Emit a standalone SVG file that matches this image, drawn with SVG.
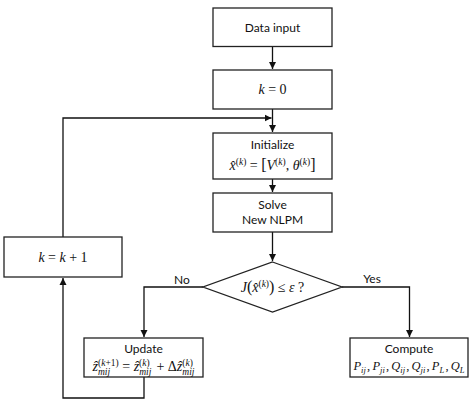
<svg xmlns="http://www.w3.org/2000/svg" width="474" height="402" viewBox="0 0 474 402">
<defs>
<marker id="ah" markerWidth="8" markerHeight="8" refX="7" refY="4" orient="auto" markerUnits="userSpaceOnUse">
<path d="M0,0.5 L7,4 L0,7.5 Z" fill="#111"/>
</marker>
<style>
.box{fill:#fff;stroke:#222;stroke-width:1.3}
.ln{fill:none;stroke:#111;stroke-width:1.3}
.t{font-family:Lato,"Liberation Sans",sans-serif;font-size:12px;fill:#111;text-anchor:middle}
.m{font-family:"Liberation Serif","DejaVu Serif",serif;font-size:14px;fill:#111;text-anchor:middle}
.i{font-style:italic}
.s{font-size:9.5px}
.c{font-size:12.5px}
.cs{font-size:8.5px;font-style:italic}
</style>
</defs>
<rect width="474" height="402" fill="#fff"/>
<g id="connectors">
<path class="ln" d="M272.5,46.5 V69" marker-end="url(#ah)"/>
<path class="ln" d="M272.5,109 V132" marker-end="url(#ah)"/>
<path class="ln" d="M63,237 V118 H271.5" marker-end="url(#ah)"/>
<path class="ln" d="M272.5,179 V192" marker-end="url(#ah)"/>
<path class="ln" d="M272.5,232 V261" marker-end="url(#ah)"/>
<path class="ln" d="M203,287 H144 V337" marker-end="url(#ah)"/>
<path class="ln" d="M342,287 H409.5 V337" marker-end="url(#ah)"/>
<path class="ln" d="M144,377 V398 H63 V278" marker-end="url(#ah)"/>
<text class="t" x="182" y="284">No</text>
<text class="t" x="372" y="283">Yes</text>
</g>
<g id="data-input">
<rect class="box" x="213" y="8" width="119" height="38.5"/>
<text class="t" x="272.5" y="31.5">Data input</text>
</g>
<g id="k-zero">
<rect class="box" x="213" y="70" width="119" height="39"/>
<text class="m" x="272.5" y="94"><tspan class="i">k</tspan> = 0</text>
</g>
<g id="initialize">
<rect class="box" x="213" y="133" width="119" height="46"/>
<text class="t" x="272.5" y="149">Initialize</text>
<text class="m" x="272.5" y="170"><tspan class="i">x̂</tspan><tspan class="s" dy="-5.5">(<tspan class="i">k</tspan>)</tspan><tspan dy="5.5"> = </tspan><tspan font-size="16">[</tspan><tspan class="i">V</tspan><tspan class="s" dy="-5.5">(<tspan class="i">k</tspan>)</tspan><tspan dy="5.5">, </tspan><tspan class="i">θ</tspan><tspan class="s" dy="-5.5">(<tspan class="i">k</tspan>)</tspan><tspan dy="5.5" font-size="16">]</tspan></text>
</g>
<g id="solve">
<rect class="box" x="213" y="193" width="119" height="39"/>
<text class="t" x="272.5" y="209">Solve</text>
<text class="t" x="272.5" y="224">New NLPM</text>
</g>
<g id="decision">
<polygon class="box" points="272.5,262 342,287 272.5,312 203,287"/>
<text class="m" x="272.5" y="292"><tspan class="i">J</tspan><tspan font-size="16">(</tspan><tspan class="i">x̂</tspan><tspan class="s" dy="-5.5">(<tspan class="i">k</tspan>)</tspan><tspan dy="5.5" font-size="16">)</tspan> ≤ <tspan class="i">ε</tspan> ?</text>
</g>
<g id="k-increment">
<rect class="box" x="4" y="237" width="118" height="40"/>
<text class="m" x="63" y="262"><tspan class="i">k</tspan> = <tspan class="i">k</tspan> + 1</text>
</g>
<g id="update">
<rect class="box" x="84" y="338" width="119" height="39"/>
<text class="t" x="143.5" y="353">Update</text>
<text class="m" x="143.5" y="371"><tspan class="i">ẑ</tspan><tspan class="s" dy="-5.5">(<tspan class="i">k</tspan>+1)</tspan><tspan class="s i" dx="-20.7" dy="9">mij</tspan><tspan dx="8.6" dy="-3.5"> = </tspan><tspan class="i">ẑ</tspan><tspan class="s" dy="-5.5">(<tspan class="i">k</tspan>)</tspan><tspan class="s i" dx="-10.5" dy="9">mij</tspan><tspan dx="1.6" dy="-3.5"> + Δ</tspan><tspan class="i">ẑ</tspan><tspan class="s" dy="-5.5">(<tspan class="i">k</tspan>)</tspan><tspan class="s i" dx="-10.5" dy="9">mij</tspan></text>
</g>
<g id="compute">
<rect class="box" x="350" y="338" width="118" height="39"/>
<text class="t" x="409" y="353">Compute</text>
<text class="m c" x="409" y="370"><tspan class="i">P</tspan><tspan class="cs" dy="3">ij</tspan><tspan dx="1.2" dy="-3">,</tspan><tspan class="i" dx="2.2">P</tspan><tspan class="cs" dy="3">ji</tspan><tspan dx="1.2" dy="-3">,</tspan><tspan class="i" dx="2.2">Q</tspan><tspan class="cs" dy="3">ij</tspan><tspan dx="1.2" dy="-3">,</tspan><tspan class="i" dx="2.2">Q</tspan><tspan class="cs" dy="3">ji</tspan><tspan dx="1.2" dy="-3">,</tspan><tspan class="i" dx="2.2">P</tspan><tspan class="cs" dy="3">L</tspan><tspan dx="1.2" dy="-3">,</tspan><tspan class="i" dx="2.2">Q</tspan><tspan class="cs" dy="3">L</tspan></text>
</g>
</svg>
